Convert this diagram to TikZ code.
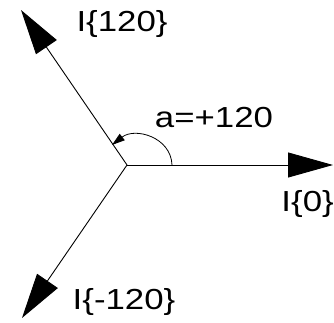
\documentclass[tikz,border=0pt]{standalone}
\usepackage{fontspec}
\setmainfont{Liberation Sans}
\usetikzlibrary{positioning,arrows.meta}

\tikzset{
  vec/.style={line width=0.9pt,-{Triangle[length=45pt,width=25pt]}},
  lbl/.style={font=\fontsize{29}{34}\selectfont,inner sep=0pt,xscale=1.2,anchor=base}
}

\begin{document}
\begin{tikzpicture}[x=1pt,y=1pt]
  \useasboundingbox (0,0) rectangle (334,323);
  \coordinate (O) at (127,158);
  \coordinate (P0) at (333,158);
  \coordinate (P120) at (21,313);
  \coordinate (Pm120) at (22,5);
  \draw[vec] (O) -- (P0);
  \draw[vec] (O) -- (P120);
  \draw[vec] (O) -- (Pm120);
  % angle arc
  \coordinate (A1) at (172,158);
  \coordinate (A2) at (112,178);
  \draw[line width=0.8pt,-{Triangle[length=13pt,width=8pt]}]
    (A1) .. controls (171,186) and (135,196) .. (A2);
  \node[lbl] (l120) at (122,291) {I\{120\}};
  \node[lbl] (la) at (214,195) {a=+120};
  \node[lbl,anchor=base east] (l0) at (334,111) {I\{0\}};
  \node[lbl] (lm120) at (124,13) {I\{-120\}};
\end{tikzpicture}
\end{document}
